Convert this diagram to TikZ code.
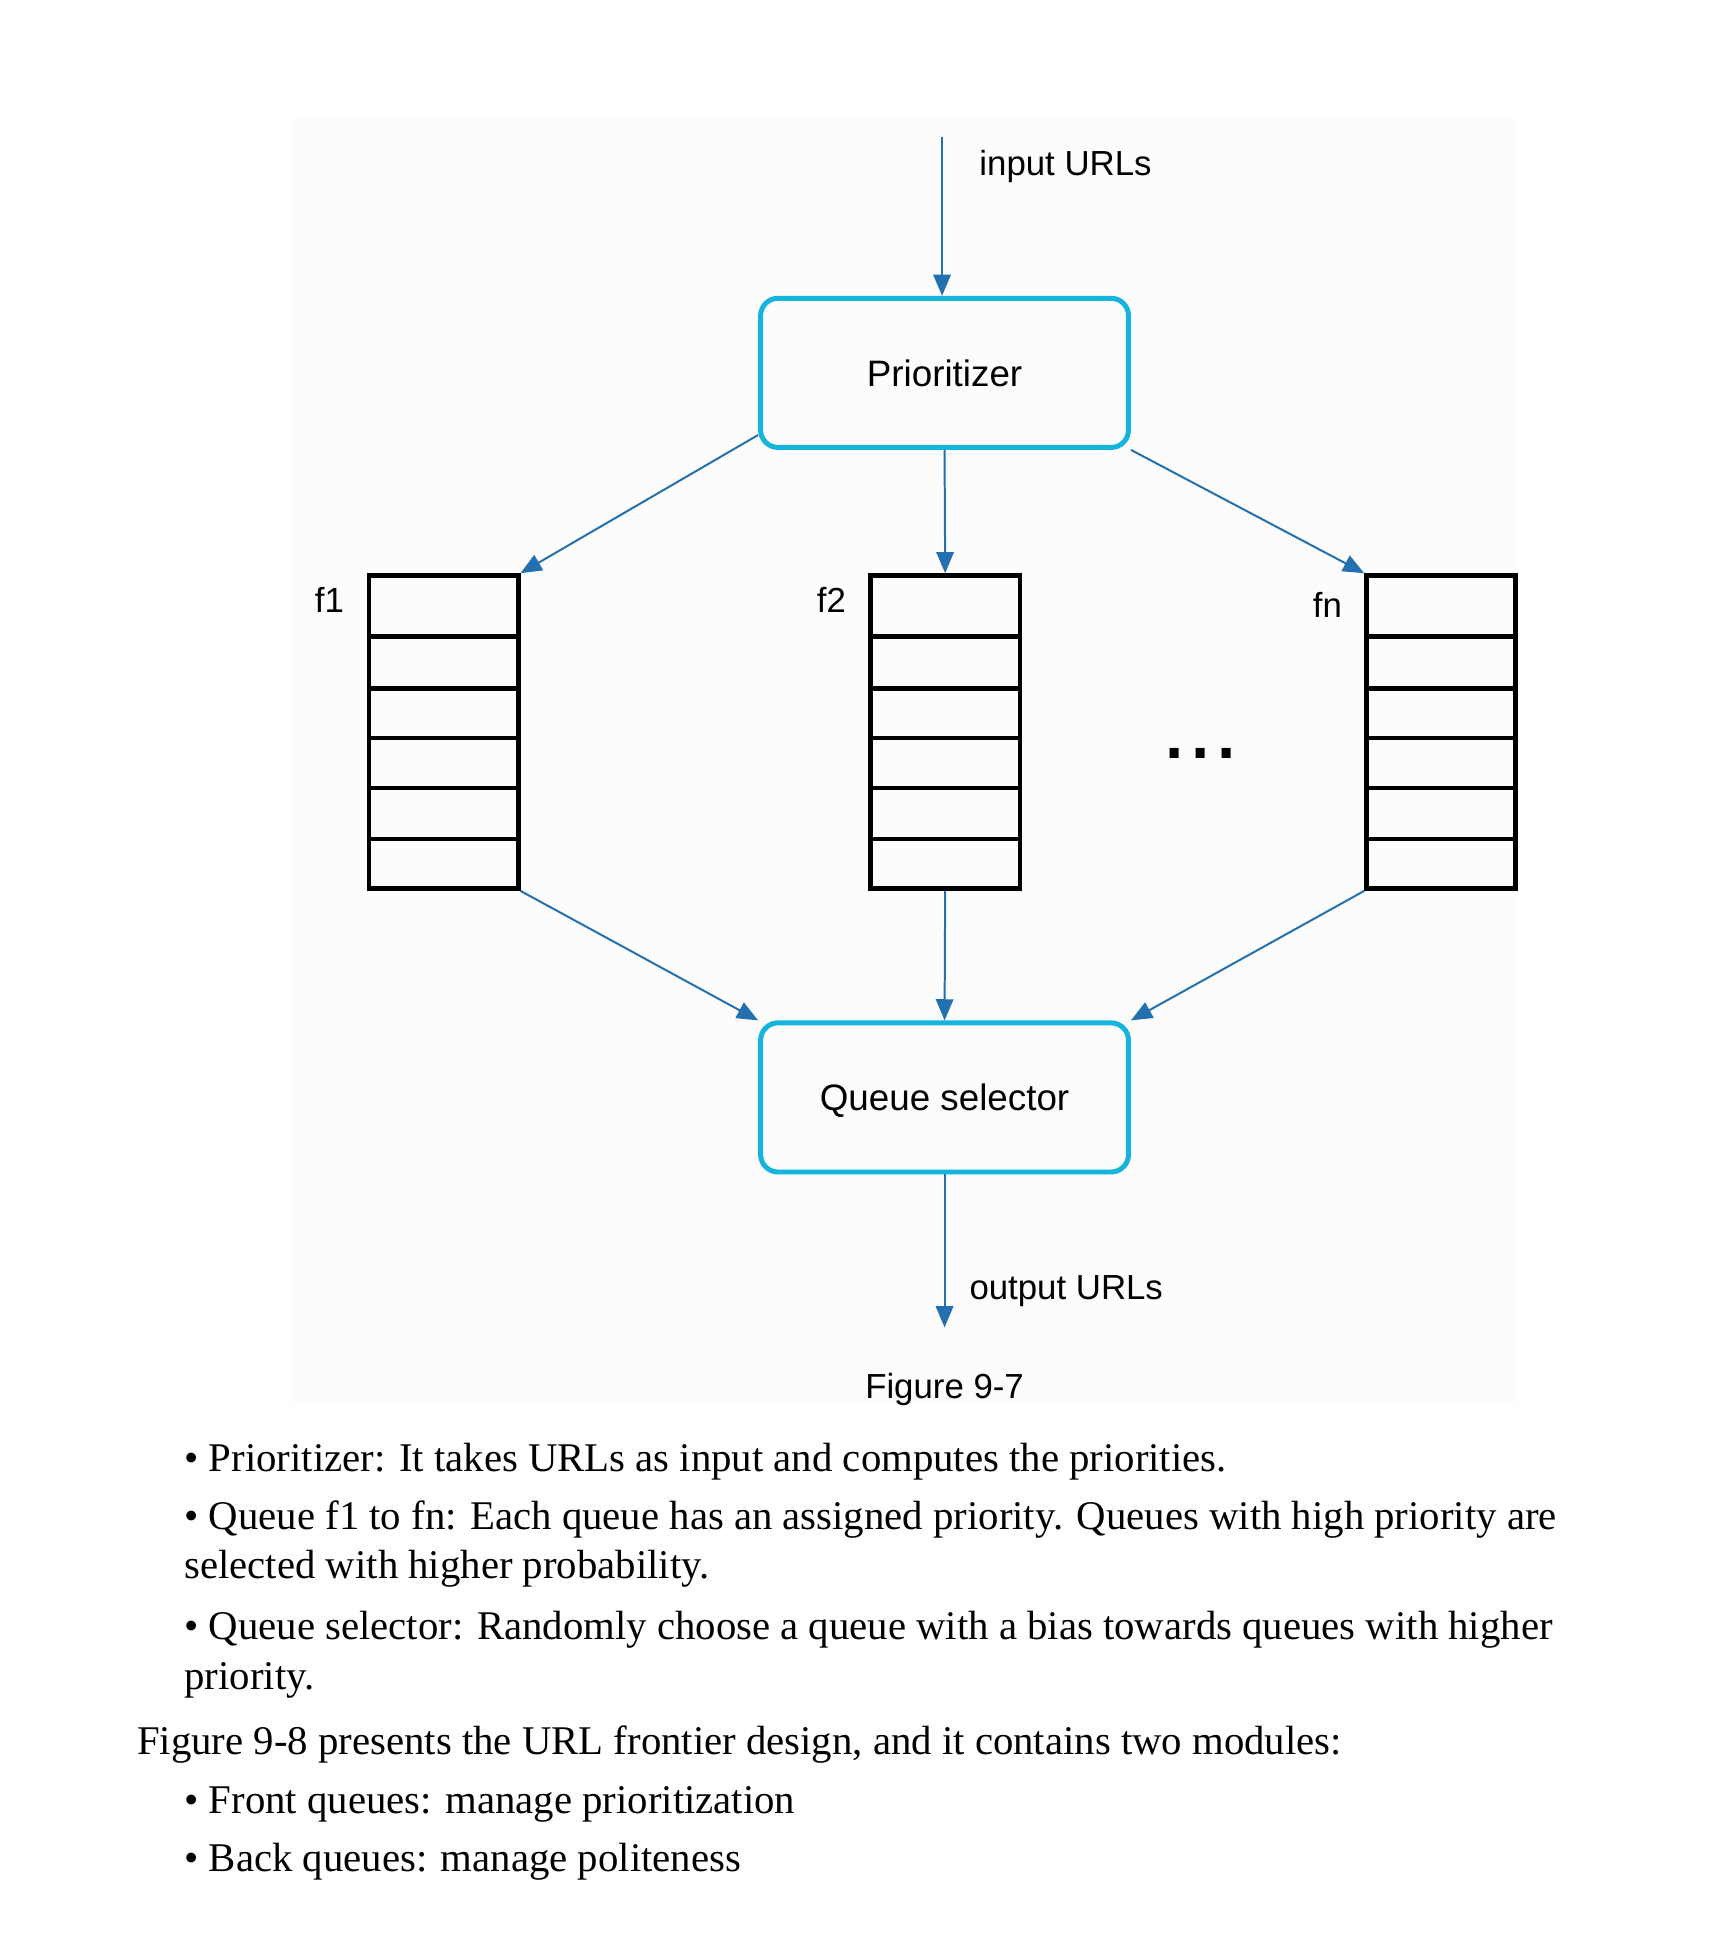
\documentclass[tikz,border=0pt]{standalone}
\usepackage{fontspec}
\setmainfont{Liberation Serif}
\newfontfamily\diagfont{Liberation Sans}
\usetikzlibrary{arrows.meta}

\definecolor{flowblue}{HTML}{2270B0}
\definecolor{boxcyan}{HTML}{14B4DC}
\definecolor{panelgray}{HTML}{FCFCFC}

\tikzset{
  flow/.style={draw=flowblue, line width=0.8pt, -{Triangle[length=8.5pt,width=7pt]}},
  stage/.style={draw=boxcyan, line width=2pt, rounded corners=7pt, minimum width=148pt, minimum height=60pt, text height=10.9pt, text depth=0pt, font=\diagfont\fontsize{14.8}{18}\selectfont},
  queuebox/.style={draw, line width=1.8pt, minimum width=60pt, minimum height=126pt, inner sep=0pt},
  tag/.style={font=\diagfont\fontsize{14}{17}\selectfont},
  bodyline/.style={anchor=base west, inner sep=0pt, font=\fontsize{16.4}{19}\selectfont}
}

\begin{document}
\begin{tikzpicture}[x=0.5pt, y=-0.5pt]
\useasboundingbox (0,0) rectangle (1387,1569);
% light panel behind the diagram
\fill[panelgray] (235,94) rectangle (1220,1130);

% modules
\node[stage] (prio) at (760,300) {Prioritizer};
\node[stage] (qsel) at (760,883) {Queue selector};

% front queues f1 ... fn
\foreach \qx/\qname in {357/q1, 760.5/q2, 1159.5/qn} {
  \node[queuebox] (\qname) at (\qx,589) {};
  \foreach \qy in {512,554,594,634,675}
    \draw[line width=1.8pt] (\qname.west |- 0,\qy) -- (\qname.east |- 0,\qy);
}
\node[tag] (f1) at (265,483) {f1};
\node[tag] (f2) at (669,483) {f2};
\node[tag] (fn) at (1068,487) {fn};
\node[font=\diagfont\fontsize{38}{40}\selectfont, anchor=base] (dots) at (966,610) {...};

% connectors
\coordinate (urlin) at (758,110);
\coordinate (urlout) at (760,1068);
\draw[flow] (urlin) -- (urlin |- prio.north);
\node[tag, anchor=west] (inlabel) at (781,134) {input URLs};
\draw[flow] ([yshift=6pt]prio.south west) -- (q1.north east);
\draw[flow] (prio.south) -- (q2.north);
\draw[flow] (prio.south east) -- (qn.north west);
\draw[flow] (q1.south east) -- (qsel.north west);
\draw[flow] (q2.south) -- (qsel.north);
\draw[flow] (qn.south west) -- (qsel.north east);
\draw[flow] (qsel.south) -- (urlout);
\node[tag, anchor=west] (outlabel) at (773,1039) {output URLs};
\node[tag] (caption) at (760,1118) {Figure 9-7};

% text below the figure
\node[bodyline] (b1) at (148,1184) {• Prioritizer: It takes URLs as input and computes the priorities.};
\node[bodyline] (b2) at (148,1231) {• Queue f1 to fn: Each queue has an assigned priority. Queues with high priority are};
\node[bodyline] (b2b) at (148,1270) {selected with higher probability.};
\node[bodyline] (b3) at (148,1319) {• Queue selector: Randomly choose a queue with a bias towards queues with higher};
\node[bodyline] (b3b) at (148,1359) {priority.};
\node[bodyline] (para) at (110,1412) {Figure 9-8 presents the URL frontier design, and it contains two modules:};
\node[bodyline] (m1) at (148,1459) {• Front queues: manage prioritization};
\node[bodyline] (m2) at (148,1506) {• Back queues: manage politeness};
\end{tikzpicture}
\end{document}
